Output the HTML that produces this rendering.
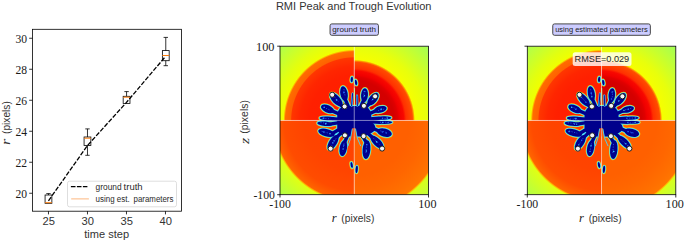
<!DOCTYPE html>
<html><head><meta charset="utf-8"><style>
html,body{margin:0;padding:0;background:#fff;}
svg{display:block;}
</style></head><body>
<svg width="685" height="242" viewBox="0 0 685 242">
<defs><radialGradient id="gTL" gradientUnits="userSpaceOnUse" cx="0" cy="0" r="106"><stop offset="0.0000" stop-color="#ff1c00"/><stop offset="0.4245" stop-color="#ff2000"/><stop offset="0.5094" stop-color="#ff2600"/><stop offset="0.5472" stop-color="#ff2e00"/><stop offset="0.5906" stop-color="#ff3600"/><stop offset="0.6000" stop-color="#ff6200"/><stop offset="0.6491" stop-color="#ff6c00"/><stop offset="0.6575" stop-color="#ffa800"/><stop offset="0.6679" stop-color="#f0ff00"/><stop offset="0.7547" stop-color="#e2ff10"/><stop offset="1.0000" stop-color="#acff50"/></radialGradient><radialGradient id="gTR" gradientUnits="userSpaceOnUse" cx="0" cy="0" r="106"><stop offset="0.0000" stop-color="#d00000"/><stop offset="0.3774" stop-color="#d40000"/><stop offset="0.4104" stop-color="#e00000"/><stop offset="0.4292" stop-color="#f00000"/><stop offset="0.4670" stop-color="#f80800"/><stop offset="0.4887" stop-color="#ff3000"/><stop offset="0.5491" stop-color="#ff4c00"/><stop offset="0.5604" stop-color="#ff9000"/><stop offset="0.5717" stop-color="#f6ff00"/><stop offset="0.6792" stop-color="#e8ff0c"/><stop offset="1.0000" stop-color="#a0ff58"/></radialGradient><radialGradient id="gBL" gradientUnits="userSpaceOnUse" cx="0" cy="0" r="106"><stop offset="0.0000" stop-color="#ff4000"/><stop offset="0.4717" stop-color="#ff4400"/><stop offset="0.6604" stop-color="#ff4c00"/><stop offset="0.7075" stop-color="#ff5800"/><stop offset="0.7509" stop-color="#ff6400"/><stop offset="0.7604" stop-color="#ffb000"/><stop offset="0.7717" stop-color="#e0ff14"/><stop offset="1.0000" stop-color="#b0ff48"/></radialGradient><radialGradient id="gBR" gradientUnits="userSpaceOnUse" cx="0" cy="0" r="106"><stop offset="0.0000" stop-color="#ff6000"/><stop offset="0.5189" stop-color="#ff6000"/><stop offset="0.6604" stop-color="#ff6600"/><stop offset="0.7925" stop-color="#ff7000"/><stop offset="0.8472" stop-color="#ff7600"/><stop offset="0.8566" stop-color="#ffb800"/><stop offset="0.8679" stop-color="#d8ff1c"/><stop offset="1.0000" stop-color="#c0ff40"/></radialGradient><g id="heat"><rect x="-74.25" y="-74.25" width="74.25" height="74.25" fill="url(#gTL)"/><rect x="0" y="-74.25" width="74.25" height="74.25" fill="url(#gTR)"/><rect x="-74.25" y="0" width="74.25" height="74.25" fill="url(#gBL)"/><rect x="0" y="0" width="74.25" height="74.25" fill="url(#gBR)"/></g><g id="fl1"><g fill="#ffe000" stroke="#ffc800" stroke-width="2.4"><ellipse cx="-10.25" cy="-26.80" rx="7.50" ry="3.65" transform="rotate(80.0 -10.25 -26.80)"/><ellipse cx="-18.05" cy="-20.90" rx="8.50" ry="3.87" transform="rotate(48.0 -18.05 -20.90)"/><ellipse cx="-26.75" cy="-11.60" rx="7.00" ry="3.65" transform="rotate(25.0 -26.75 -11.60)"/><ellipse cx="-26.75" cy="-2.00" rx="8.00" ry="1.98" transform="rotate(3.0 -26.75 -2.00)"/><ellipse cx="-29.25" cy="3.30" rx="7.75" ry="2.24" transform="rotate(5.0 -29.25 3.30)"/><ellipse cx="-27.75" cy="12.30" rx="8.50" ry="3.65" transform="rotate(15.0 -27.75 12.30)"/><ellipse cx="-21.25" cy="22.00" rx="8.50" ry="3.87" transform="rotate(122.0 -21.25 22.00)"/><ellipse cx="-10.95" cy="27.70" rx="8.00" ry="3.65" transform="rotate(100.0 -10.95 27.70)"/><ellipse cx="12.25" cy="29.20" rx="9.50" ry="3.87" transform="rotate(95.0 12.25 29.20)"/><ellipse cx="22.75" cy="21.70" rx="8.50" ry="3.65" transform="rotate(45.0 22.75 21.70)"/><ellipse cx="30.25" cy="12.20" rx="7.50" ry="4.08" transform="rotate(15.0 30.25 12.20)"/><ellipse cx="30.35" cy="1.90" rx="7.75" ry="1.55" transform="rotate(0.0 30.35 1.90)"/><ellipse cx="29.35" cy="-2.40" rx="7.75" ry="1.72" transform="rotate(178.0 29.35 -2.40)"/><ellipse cx="26.05" cy="-11.00" rx="6.50" ry="3.23" transform="rotate(165.0 26.05 -11.00)"/><ellipse cx="18.75" cy="-21.30" rx="7.50" ry="3.87" transform="rotate(130.0 18.75 -21.30)"/><ellipse cx="10.25" cy="-25.30" rx="7.00" ry="3.44" transform="rotate(95.0 10.25 -25.30)"/><ellipse cx="-2.45" cy="-41.00" rx="2.80" ry="1.15" transform="rotate(95.0 -2.45 -41.00)"/><ellipse cx="1.75" cy="-37.90" rx="2.80" ry="1.15" transform="rotate(80.0 1.75 -37.90)"/><ellipse cx="-2.55" cy="44.60" rx="3.10" ry="1.10" transform="rotate(80.0 -2.55 44.60)"/><ellipse cx="2.45" cy="49.00" rx="3.60" ry="1.10" transform="rotate(95.0 2.45 49.00)"/><rect x="-17" y="-14.5" width="34" height="30.5" rx="9" ry="9"/><ellipse cx="9" cy="7" rx="12" ry="7.5"/></g><path d="M-9.47,-22.37L-3.90,-9.21M-14.64,-17.11L-6.50,-7.60M-22.94,-9.83L-9.19,-3.94M-21.96,-1.75L-9.97,-0.79M-24.62,3.71L-9.89,1.49M-22.82,13.62L-8.59,5.12M-18.55,17.67L-7.24,6.90M-10.12,22.97L-4.03,9.15M12.75,23.52L4.76,8.79M19.14,18.09L7.27,6.87M25.90,11.04L9.20,3.92M25.70,1.90L9.97,0.74M24.70,-2.24L9.96,-0.90M22.28,-9.99L9.12,-4.09M15.86,-17.85L6.64,-7.48M9.88,-21.12L4.24,-9.06" stroke="#ffc800" stroke-width="5.8" stroke-linecap="round" fill="none"/><g fill="#30d8ff" stroke="#48e0f8" stroke-width="1.5"><ellipse cx="-10.25" cy="-26.80" rx="7.50" ry="3.65" transform="rotate(80.0 -10.25 -26.80)"/><ellipse cx="-18.05" cy="-20.90" rx="8.50" ry="3.87" transform="rotate(48.0 -18.05 -20.90)"/><ellipse cx="-26.75" cy="-11.60" rx="7.00" ry="3.65" transform="rotate(25.0 -26.75 -11.60)"/><ellipse cx="-26.75" cy="-2.00" rx="8.00" ry="1.98" transform="rotate(3.0 -26.75 -2.00)"/><ellipse cx="-29.25" cy="3.30" rx="7.75" ry="2.24" transform="rotate(5.0 -29.25 3.30)"/><ellipse cx="-27.75" cy="12.30" rx="8.50" ry="3.65" transform="rotate(15.0 -27.75 12.30)"/><ellipse cx="-21.25" cy="22.00" rx="8.50" ry="3.87" transform="rotate(122.0 -21.25 22.00)"/><ellipse cx="-10.95" cy="27.70" rx="8.00" ry="3.65" transform="rotate(100.0 -10.95 27.70)"/><ellipse cx="12.25" cy="29.20" rx="9.50" ry="3.87" transform="rotate(95.0 12.25 29.20)"/><ellipse cx="22.75" cy="21.70" rx="8.50" ry="3.65" transform="rotate(45.0 22.75 21.70)"/><ellipse cx="30.25" cy="12.20" rx="7.50" ry="4.08" transform="rotate(15.0 30.25 12.20)"/><ellipse cx="30.35" cy="1.90" rx="7.75" ry="1.55" transform="rotate(0.0 30.35 1.90)"/><ellipse cx="29.35" cy="-2.40" rx="7.75" ry="1.72" transform="rotate(178.0 29.35 -2.40)"/><ellipse cx="26.05" cy="-11.00" rx="6.50" ry="3.23" transform="rotate(165.0 26.05 -11.00)"/><ellipse cx="18.75" cy="-21.30" rx="7.50" ry="3.87" transform="rotate(130.0 18.75 -21.30)"/><ellipse cx="10.25" cy="-25.30" rx="7.00" ry="3.44" transform="rotate(95.0 10.25 -25.30)"/><ellipse cx="-2.45" cy="-41.00" rx="2.80" ry="1.15" transform="rotate(95.0 -2.45 -41.00)"/><ellipse cx="1.75" cy="-37.90" rx="2.80" ry="1.15" transform="rotate(80.0 1.75 -37.90)"/><ellipse cx="-2.55" cy="44.60" rx="3.10" ry="1.10" transform="rotate(80.0 -2.55 44.60)"/><ellipse cx="2.45" cy="49.00" rx="3.60" ry="1.10" transform="rotate(95.0 2.45 49.00)"/><rect x="-17" y="-14.5" width="34" height="30.5" rx="9" ry="9"/><ellipse cx="9" cy="7" rx="12" ry="7.5"/></g><path d="M-9.47,-22.37L-3.90,-9.21M-14.64,-17.11L-6.50,-7.60M-22.94,-9.83L-9.19,-3.94M-21.96,-1.75L-9.97,-0.79M-24.62,3.71L-9.89,1.49M-22.82,13.62L-8.59,5.12M-18.55,17.67L-7.24,6.90M-10.12,22.97L-4.03,9.15M12.75,23.52L4.76,8.79M19.14,18.09L7.27,6.87M25.90,11.04L9.20,3.92M25.70,1.90L9.97,0.74M24.70,-2.24L9.96,-0.90M22.28,-9.99L9.12,-4.09M15.86,-17.85L6.64,-7.48M9.88,-21.12L4.24,-9.06" stroke="#48e0f8" stroke-width="4.9" stroke-linecap="round" fill="none"/><g fill="#00008c"><ellipse cx="-10.25" cy="-26.80" rx="7.50" ry="3.65" transform="rotate(80.0 -10.25 -26.80)"/><ellipse cx="-18.05" cy="-20.90" rx="8.50" ry="3.87" transform="rotate(48.0 -18.05 -20.90)"/><ellipse cx="-26.75" cy="-11.60" rx="7.00" ry="3.65" transform="rotate(25.0 -26.75 -11.60)"/><ellipse cx="-26.75" cy="-2.00" rx="8.00" ry="1.98" transform="rotate(3.0 -26.75 -2.00)"/><ellipse cx="-29.25" cy="3.30" rx="7.75" ry="2.24" transform="rotate(5.0 -29.25 3.30)"/><ellipse cx="-27.75" cy="12.30" rx="8.50" ry="3.65" transform="rotate(15.0 -27.75 12.30)"/><ellipse cx="-21.25" cy="22.00" rx="8.50" ry="3.87" transform="rotate(122.0 -21.25 22.00)"/><ellipse cx="-10.95" cy="27.70" rx="8.00" ry="3.65" transform="rotate(100.0 -10.95 27.70)"/><ellipse cx="12.25" cy="29.20" rx="9.50" ry="3.87" transform="rotate(95.0 12.25 29.20)"/><ellipse cx="22.75" cy="21.70" rx="8.50" ry="3.65" transform="rotate(45.0 22.75 21.70)"/><ellipse cx="30.25" cy="12.20" rx="7.50" ry="4.08" transform="rotate(15.0 30.25 12.20)"/><ellipse cx="30.35" cy="1.90" rx="7.75" ry="1.55" transform="rotate(0.0 30.35 1.90)"/><ellipse cx="29.35" cy="-2.40" rx="7.75" ry="1.72" transform="rotate(178.0 29.35 -2.40)"/><ellipse cx="26.05" cy="-11.00" rx="6.50" ry="3.23" transform="rotate(165.0 26.05 -11.00)"/><ellipse cx="18.75" cy="-21.30" rx="7.50" ry="3.87" transform="rotate(130.0 18.75 -21.30)"/><ellipse cx="10.25" cy="-25.30" rx="7.00" ry="3.44" transform="rotate(95.0 10.25 -25.30)"/><ellipse cx="-2.45" cy="-41.00" rx="2.80" ry="1.15" transform="rotate(95.0 -2.45 -41.00)"/><ellipse cx="1.75" cy="-37.90" rx="2.80" ry="1.15" transform="rotate(80.0 1.75 -37.90)"/><ellipse cx="-2.55" cy="44.60" rx="3.10" ry="1.10" transform="rotate(80.0 -2.55 44.60)"/><ellipse cx="2.45" cy="49.00" rx="3.60" ry="1.10" transform="rotate(95.0 2.45 49.00)"/><rect x="-17" y="-14.5" width="34" height="30.5" rx="9" ry="9"/><ellipse cx="9" cy="7" rx="12" ry="7.5"/></g><path d="M-9.47,-22.37L-3.90,-9.21M-14.64,-17.11L-6.50,-7.60M-22.94,-9.83L-9.19,-3.94M-21.96,-1.75L-9.97,-0.79M-24.62,3.71L-9.89,1.49M-22.82,13.62L-8.59,5.12M-18.55,17.67L-7.24,6.90M-10.12,22.97L-4.03,9.15M12.75,23.52L4.76,8.79M19.14,18.09L7.27,6.87M25.90,11.04L9.20,3.92M25.70,1.90L9.97,0.74M24.70,-2.24L9.96,-0.90M22.28,-9.99L9.12,-4.09M15.86,-17.85L6.64,-7.48M9.88,-21.12L4.24,-9.06" stroke="#00008c" stroke-width="3.4" stroke-linecap="round" fill="none"/><path d="M-1.65,-26.80L-2.65,-14.80M2.75,-24.80L3.15,-14.80" stroke="#48e0f8" stroke-width="2.2" stroke-linecap="round" fill="none"/><path d="M-1.65,-26.80L-2.65,-14.80M2.75,-24.80L3.15,-14.80" stroke="#0010b0" stroke-width="1.1" stroke-linecap="round" fill="none"/><circle cx="-10.53" cy="-28.36" r="0.7" fill="#1e6cff"/><circle cx="-10.41" cy="-27.73" r="0.7" fill="#1e6cff"/><line x1="-10.36" y1="-31.35" x2="-9.06" y2="-23.96" stroke="#2f7dff" stroke-width="0.7" stroke-dasharray="1.2,1.4" opacity="0.9"/><circle cx="-17.81" cy="-20.63" r="0.7" fill="#38c8ff"/><circle cx="-17.48" cy="-20.27" r="0.7" fill="#2a90ff"/><line x1="-21.12" y1="-25.00" x2="-15.44" y2="-18.68" stroke="#2f7dff" stroke-width="0.7" stroke-dasharray="1.2,1.4" opacity="0.9"/><circle cx="-29.90" cy="-13.07" r="0.7" fill="#38c8ff"/><circle cx="-30.02" cy="-13.13" r="0.7" fill="#1e6cff"/><line x1="-30.59" y1="-13.30" x2="-24.25" y2="-10.34" stroke="#2f7dff" stroke-width="0.7" stroke-dasharray="1.2,1.4" opacity="0.9"/><circle cx="-30.98" cy="-2.22" r="0.7" fill="#2a90ff"/><circle cx="-30.36" cy="-2.19" r="0.7" fill="#1e6cff"/><line x1="-31.55" y1="-2.04" x2="-23.57" y2="-1.62" stroke="#2f7dff" stroke-width="0.7" stroke-dasharray="1.2,1.4" opacity="0.9"/><circle cx="-28.48" cy="3.37" r="0.7" fill="#1e6cff"/><circle cx="-28.54" cy="3.36" r="0.7" fill="#38c8ff"/><line x1="-33.82" y1="2.18" x2="-26.10" y2="2.85" stroke="#2f7dff" stroke-width="0.7" stroke-dasharray="1.2,1.4" opacity="0.9"/><circle cx="-30.50" cy="11.56" r="0.7" fill="#2a90ff"/><circle cx="-24.22" cy="13.25" r="0.7" fill="#38c8ff"/><line x1="-32.64" y1="10.86" x2="-24.43" y2="13.06" stroke="#2f7dff" stroke-width="0.7" stroke-dasharray="1.2,1.4" opacity="0.9"/><circle cx="-21.47" cy="22.35" r="0.7" fill="#2a90ff"/><circle cx="-20.21" cy="20.34" r="0.7" fill="#2a90ff"/><line x1="-18.11" y1="17.95" x2="-22.62" y2="25.15" stroke="#2f7dff" stroke-width="0.7" stroke-dasharray="1.2,1.4" opacity="0.9"/><circle cx="-11.09" cy="28.47" r="0.7" fill="#2a90ff"/><circle cx="-10.43" cy="24.75" r="0.7" fill="#1e6cff"/><line x1="-10.19" y1="22.96" x2="-11.58" y2="30.84" stroke="#2f7dff" stroke-width="0.7" stroke-dasharray="1.2,1.4" opacity="0.9"/><circle cx="12.68" cy="24.23" r="0.7" fill="#1e6cff"/><circle cx="12.13" cy="30.55" r="0.7" fill="#38c8ff"/><line x1="12.46" y1="23.50" x2="11.63" y2="32.96" stroke="#2f7dff" stroke-width="0.7" stroke-dasharray="1.2,1.4" opacity="0.9"/><circle cx="22.23" cy="21.18" r="0.7" fill="#38c8ff"/><circle cx="22.50" cy="21.45" r="0.7" fill="#38c8ff"/><line x1="19.30" y1="17.94" x2="25.31" y2="23.95" stroke="#2f7dff" stroke-width="0.7" stroke-dasharray="1.2,1.4" opacity="0.9"/><circle cx="28.06" cy="11.61" r="0.7" fill="#1e6cff"/><circle cx="31.98" cy="12.66" r="0.7" fill="#1e6cff"/><line x1="26.08" y1="10.39" x2="33.32" y2="12.33" stroke="#2f7dff" stroke-width="0.7" stroke-dasharray="1.2,1.4" opacity="0.9"/><circle cx="28.49" cy="1.90" r="0.7" fill="#38c8ff"/><circle cx="33.84" cy="1.90" r="0.7" fill="#2a90ff"/><line x1="25.70" y1="1.82" x2="33.45" y2="1.82" stroke="#2f7dff" stroke-width="0.7" stroke-dasharray="1.2,1.4" opacity="0.9"/><circle cx="28.34" cy="-2.36" r="0.7" fill="#1e6cff"/><circle cx="32.90" cy="-2.52" r="0.7" fill="#38c8ff"/><line x1="34.02" y1="-2.03" x2="26.27" y2="-1.76" stroke="#2f7dff" stroke-width="0.7" stroke-dasharray="1.2,1.4" opacity="0.9"/><circle cx="27.24" cy="-11.32" r="0.7" fill="#38c8ff"/><circle cx="26.64" cy="-11.16" r="0.7" fill="#2a90ff"/><line x1="29.99" y1="-11.36" x2="23.71" y2="-9.67" stroke="#2f7dff" stroke-width="0.7" stroke-dasharray="1.2,1.4" opacity="0.9"/><circle cx="18.41" cy="-20.90" r="0.7" fill="#38c8ff"/><circle cx="19.67" cy="-22.40" r="0.7" fill="#38c8ff"/><line x1="21.53" y1="-24.84" x2="16.71" y2="-19.10" stroke="#2f7dff" stroke-width="0.7" stroke-dasharray="1.2,1.4" opacity="0.9"/><circle cx="10.19" cy="-24.63" r="0.7" fill="#38c8ff"/><circle cx="10.57" cy="-28.91" r="0.7" fill="#1e6cff"/><line x1="9.91" y1="-29.55" x2="9.30" y2="-22.57" stroke="#2f7dff" stroke-width="0.7" stroke-dasharray="1.2,1.4" opacity="0.9"/><polygon points="-2.05,7.90 0.00,7.90 0.00,39.70 -7.75,39.70 -6.75,27.70 -3.75,17.70" fill="url(#gBL)"/><polygon points="0.00,7.90 1.35,7.90 3.25,17.70 7.25,27.70 7.75,39.70 0.00,39.70" fill="url(#gBR)"/><polyline points="-1.95,8.30 -3.65,17.70 -6.25,25.70" fill="none" stroke="#40d8ff" stroke-width="0.9"/><polyline points="1.25,8.30 3.05,17.70 6.55,25.70" fill="none" stroke="#40d8ff" stroke-width="0.9"/><polyline points="0.15,-32.30 0.35,-15.30" fill="none" stroke="#a0ff60" stroke-width="0.9"/><line x1="0" y1="-74.25" x2="0" y2="74.25" stroke="#fff" stroke-opacity="0.55" stroke-width="0.9"/><line x1="-74.25" y1="0" x2="74.25" y2="0" stroke="#fff" stroke-opacity="0.55" stroke-width="0.9"/><circle cx="-22.05000000000001" cy="-25.700000000000003" r="2.55" fill="#f4f4f8" stroke="#151515" stroke-width="0.95"/><circle cx="-9.649999999999977" cy="-14.0" r="2.55" fill="#f4f4f8" stroke="#151515" stroke-width="0.95"/><circle cx="9.649999999999977" cy="-14.599999999999994" r="2.55" fill="#f4f4f8" stroke="#151515" stroke-width="0.95"/><circle cx="20.850000000000023" cy="-24.099999999999994" r="2.55" fill="#f4f4f8" stroke="#151515" stroke-width="0.95"/><circle cx="-9.350000000000023" cy="14.899999999999991" r="2.55" fill="#f4f4f8" stroke="#151515" stroke-width="0.95"/><circle cx="9.350000000000023" cy="15.700000000000003" r="2.55" fill="#f4f4f8" stroke="#151515" stroke-width="0.95"/><circle cx="-23.649999999999977" cy="28.200000000000003" r="2.55" fill="#f4f4f8" stroke="#151515" stroke-width="0.95"/><circle cx="27.850000000000023" cy="28.10000000000001" r="2.55" fill="#f4f4f8" stroke="#151515" stroke-width="0.95"/></g><g id="fl2"><g fill="#ffe000" stroke="#ffc800" stroke-width="2.4"><ellipse cx="-10.25" cy="-26.80" rx="7.50" ry="3.48" transform="rotate(80.0 -10.25 -26.80)"/><ellipse cx="-18.05" cy="-20.90" rx="8.50" ry="3.69" transform="rotate(48.0 -18.05 -20.90)"/><ellipse cx="-26.75" cy="-11.60" rx="7.00" ry="3.48" transform="rotate(25.0 -26.75 -11.60)"/><ellipse cx="-26.75" cy="-2.00" rx="8.00" ry="1.89" transform="rotate(3.0 -26.75 -2.00)"/><ellipse cx="-29.25" cy="3.30" rx="7.75" ry="2.13" transform="rotate(5.0 -29.25 3.30)"/><ellipse cx="-27.75" cy="12.30" rx="8.50" ry="3.48" transform="rotate(15.0 -27.75 12.30)"/><ellipse cx="-21.25" cy="22.00" rx="8.50" ry="3.69" transform="rotate(122.0 -21.25 22.00)"/><ellipse cx="-10.95" cy="27.70" rx="8.00" ry="3.48" transform="rotate(100.0 -10.95 27.70)"/><ellipse cx="12.25" cy="29.20" rx="9.50" ry="3.69" transform="rotate(95.0 12.25 29.20)"/><ellipse cx="22.75" cy="21.70" rx="8.50" ry="3.48" transform="rotate(45.0 22.75 21.70)"/><ellipse cx="30.25" cy="12.20" rx="7.50" ry="3.89" transform="rotate(15.0 30.25 12.20)"/><ellipse cx="30.35" cy="1.90" rx="7.75" ry="1.48" transform="rotate(0.0 30.35 1.90)"/><ellipse cx="29.35" cy="-2.40" rx="7.75" ry="1.64" transform="rotate(178.0 29.35 -2.40)"/><ellipse cx="26.05" cy="-11.00" rx="6.50" ry="3.07" transform="rotate(165.0 26.05 -11.00)"/><ellipse cx="18.75" cy="-21.30" rx="7.50" ry="3.69" transform="rotate(130.0 18.75 -21.30)"/><ellipse cx="10.25" cy="-25.30" rx="7.00" ry="3.28" transform="rotate(95.0 10.25 -25.30)"/><ellipse cx="-2.45" cy="-41.00" rx="2.80" ry="1.15" transform="rotate(95.0 -2.45 -41.00)"/><ellipse cx="1.75" cy="-37.90" rx="2.80" ry="1.15" transform="rotate(80.0 1.75 -37.90)"/><ellipse cx="-2.55" cy="44.60" rx="3.10" ry="1.10" transform="rotate(80.0 -2.55 44.60)"/><ellipse cx="2.45" cy="49.00" rx="3.60" ry="1.10" transform="rotate(95.0 2.45 49.00)"/><rect x="-17" y="-14.5" width="34" height="30.5" rx="9" ry="9"/><ellipse cx="9" cy="7" rx="12" ry="7.5"/></g><path d="M-9.47,-22.37L-3.90,-9.21M-14.64,-17.11L-6.50,-7.60M-22.94,-9.83L-9.19,-3.94M-21.96,-1.75L-9.97,-0.79M-24.62,3.71L-9.89,1.49M-22.82,13.62L-8.59,5.12M-18.55,17.67L-7.24,6.90M-10.12,22.97L-4.03,9.15M12.75,23.52L4.76,8.79M19.14,18.09L7.27,6.87M25.90,11.04L9.20,3.92M25.70,1.90L9.97,0.74M24.70,-2.24L9.96,-0.90M22.28,-9.99L9.12,-4.09M15.86,-17.85L6.64,-7.48M9.88,-21.12L4.24,-9.06" stroke="#ffc800" stroke-width="5.8" stroke-linecap="round" fill="none"/><g fill="#30d8ff" stroke="#48e0f8" stroke-width="1.5"><ellipse cx="-10.25" cy="-26.80" rx="7.50" ry="3.48" transform="rotate(80.0 -10.25 -26.80)"/><ellipse cx="-18.05" cy="-20.90" rx="8.50" ry="3.69" transform="rotate(48.0 -18.05 -20.90)"/><ellipse cx="-26.75" cy="-11.60" rx="7.00" ry="3.48" transform="rotate(25.0 -26.75 -11.60)"/><ellipse cx="-26.75" cy="-2.00" rx="8.00" ry="1.89" transform="rotate(3.0 -26.75 -2.00)"/><ellipse cx="-29.25" cy="3.30" rx="7.75" ry="2.13" transform="rotate(5.0 -29.25 3.30)"/><ellipse cx="-27.75" cy="12.30" rx="8.50" ry="3.48" transform="rotate(15.0 -27.75 12.30)"/><ellipse cx="-21.25" cy="22.00" rx="8.50" ry="3.69" transform="rotate(122.0 -21.25 22.00)"/><ellipse cx="-10.95" cy="27.70" rx="8.00" ry="3.48" transform="rotate(100.0 -10.95 27.70)"/><ellipse cx="12.25" cy="29.20" rx="9.50" ry="3.69" transform="rotate(95.0 12.25 29.20)"/><ellipse cx="22.75" cy="21.70" rx="8.50" ry="3.48" transform="rotate(45.0 22.75 21.70)"/><ellipse cx="30.25" cy="12.20" rx="7.50" ry="3.89" transform="rotate(15.0 30.25 12.20)"/><ellipse cx="30.35" cy="1.90" rx="7.75" ry="1.48" transform="rotate(0.0 30.35 1.90)"/><ellipse cx="29.35" cy="-2.40" rx="7.75" ry="1.64" transform="rotate(178.0 29.35 -2.40)"/><ellipse cx="26.05" cy="-11.00" rx="6.50" ry="3.07" transform="rotate(165.0 26.05 -11.00)"/><ellipse cx="18.75" cy="-21.30" rx="7.50" ry="3.69" transform="rotate(130.0 18.75 -21.30)"/><ellipse cx="10.25" cy="-25.30" rx="7.00" ry="3.28" transform="rotate(95.0 10.25 -25.30)"/><ellipse cx="-2.45" cy="-41.00" rx="2.80" ry="1.15" transform="rotate(95.0 -2.45 -41.00)"/><ellipse cx="1.75" cy="-37.90" rx="2.80" ry="1.15" transform="rotate(80.0 1.75 -37.90)"/><ellipse cx="-2.55" cy="44.60" rx="3.10" ry="1.10" transform="rotate(80.0 -2.55 44.60)"/><ellipse cx="2.45" cy="49.00" rx="3.60" ry="1.10" transform="rotate(95.0 2.45 49.00)"/><rect x="-17" y="-14.5" width="34" height="30.5" rx="9" ry="9"/><ellipse cx="9" cy="7" rx="12" ry="7.5"/></g><path d="M-9.47,-22.37L-3.90,-9.21M-14.64,-17.11L-6.50,-7.60M-22.94,-9.83L-9.19,-3.94M-21.96,-1.75L-9.97,-0.79M-24.62,3.71L-9.89,1.49M-22.82,13.62L-8.59,5.12M-18.55,17.67L-7.24,6.90M-10.12,22.97L-4.03,9.15M12.75,23.52L4.76,8.79M19.14,18.09L7.27,6.87M25.90,11.04L9.20,3.92M25.70,1.90L9.97,0.74M24.70,-2.24L9.96,-0.90M22.28,-9.99L9.12,-4.09M15.86,-17.85L6.64,-7.48M9.88,-21.12L4.24,-9.06" stroke="#48e0f8" stroke-width="4.9" stroke-linecap="round" fill="none"/><g fill="#00008c"><ellipse cx="-10.25" cy="-26.80" rx="7.50" ry="3.48" transform="rotate(80.0 -10.25 -26.80)"/><ellipse cx="-18.05" cy="-20.90" rx="8.50" ry="3.69" transform="rotate(48.0 -18.05 -20.90)"/><ellipse cx="-26.75" cy="-11.60" rx="7.00" ry="3.48" transform="rotate(25.0 -26.75 -11.60)"/><ellipse cx="-26.75" cy="-2.00" rx="8.00" ry="1.89" transform="rotate(3.0 -26.75 -2.00)"/><ellipse cx="-29.25" cy="3.30" rx="7.75" ry="2.13" transform="rotate(5.0 -29.25 3.30)"/><ellipse cx="-27.75" cy="12.30" rx="8.50" ry="3.48" transform="rotate(15.0 -27.75 12.30)"/><ellipse cx="-21.25" cy="22.00" rx="8.50" ry="3.69" transform="rotate(122.0 -21.25 22.00)"/><ellipse cx="-10.95" cy="27.70" rx="8.00" ry="3.48" transform="rotate(100.0 -10.95 27.70)"/><ellipse cx="12.25" cy="29.20" rx="9.50" ry="3.69" transform="rotate(95.0 12.25 29.20)"/><ellipse cx="22.75" cy="21.70" rx="8.50" ry="3.48" transform="rotate(45.0 22.75 21.70)"/><ellipse cx="30.25" cy="12.20" rx="7.50" ry="3.89" transform="rotate(15.0 30.25 12.20)"/><ellipse cx="30.35" cy="1.90" rx="7.75" ry="1.48" transform="rotate(0.0 30.35 1.90)"/><ellipse cx="29.35" cy="-2.40" rx="7.75" ry="1.64" transform="rotate(178.0 29.35 -2.40)"/><ellipse cx="26.05" cy="-11.00" rx="6.50" ry="3.07" transform="rotate(165.0 26.05 -11.00)"/><ellipse cx="18.75" cy="-21.30" rx="7.50" ry="3.69" transform="rotate(130.0 18.75 -21.30)"/><ellipse cx="10.25" cy="-25.30" rx="7.00" ry="3.28" transform="rotate(95.0 10.25 -25.30)"/><ellipse cx="-2.45" cy="-41.00" rx="2.80" ry="1.15" transform="rotate(95.0 -2.45 -41.00)"/><ellipse cx="1.75" cy="-37.90" rx="2.80" ry="1.15" transform="rotate(80.0 1.75 -37.90)"/><ellipse cx="-2.55" cy="44.60" rx="3.10" ry="1.10" transform="rotate(80.0 -2.55 44.60)"/><ellipse cx="2.45" cy="49.00" rx="3.60" ry="1.10" transform="rotate(95.0 2.45 49.00)"/><rect x="-17" y="-14.5" width="34" height="30.5" rx="9" ry="9"/><ellipse cx="9" cy="7" rx="12" ry="7.5"/></g><path d="M-9.47,-22.37L-3.90,-9.21M-14.64,-17.11L-6.50,-7.60M-22.94,-9.83L-9.19,-3.94M-21.96,-1.75L-9.97,-0.79M-24.62,3.71L-9.89,1.49M-22.82,13.62L-8.59,5.12M-18.55,17.67L-7.24,6.90M-10.12,22.97L-4.03,9.15M12.75,23.52L4.76,8.79M19.14,18.09L7.27,6.87M25.90,11.04L9.20,3.92M25.70,1.90L9.97,0.74M24.70,-2.24L9.96,-0.90M22.28,-9.99L9.12,-4.09M15.86,-17.85L6.64,-7.48M9.88,-21.12L4.24,-9.06" stroke="#00008c" stroke-width="3.4" stroke-linecap="round" fill="none"/><path d="M-1.65,-26.80L-2.65,-14.80M2.75,-24.80L3.15,-14.80" stroke="#48e0f8" stroke-width="2.2" stroke-linecap="round" fill="none"/><path d="M-1.65,-26.80L-2.65,-14.80M2.75,-24.80L3.15,-14.80" stroke="#0010b0" stroke-width="1.1" stroke-linecap="round" fill="none"/><circle cx="-10.32" cy="-27.22" r="0.7" fill="#2a90ff"/><circle cx="-9.69" cy="-23.64" r="0.7" fill="#38c8ff"/><line x1="-10.96" y1="-31.25" x2="-9.65" y2="-23.86" stroke="#2f7dff" stroke-width="0.7" stroke-dasharray="1.2,1.4" opacity="0.9"/><circle cx="-15.63" cy="-18.21" r="0.7" fill="#1e6cff"/><circle cx="-20.20" cy="-23.29" r="0.7" fill="#2a90ff"/><line x1="-21.43" y1="-24.72" x2="-15.75" y2="-18.40" stroke="#2f7dff" stroke-width="0.7" stroke-dasharray="1.2,1.4" opacity="0.9"/><circle cx="-25.88" cy="-11.20" r="0.7" fill="#1e6cff"/><circle cx="-29.84" cy="-13.04" r="0.7" fill="#38c8ff"/><line x1="-30.31" y1="-13.89" x2="-23.97" y2="-10.94" stroke="#2f7dff" stroke-width="0.7" stroke-dasharray="1.2,1.4" opacity="0.9"/><circle cx="-26.38" cy="-1.98" r="0.7" fill="#2a90ff"/><circle cx="-25.46" cy="-1.93" r="0.7" fill="#2a90ff"/><line x1="-31.58" y1="-1.48" x2="-23.59" y2="-1.06" stroke="#2f7dff" stroke-width="0.7" stroke-dasharray="1.2,1.4" opacity="0.9"/><circle cx="-24.94" cy="3.68" r="0.7" fill="#2a90ff"/><circle cx="-27.04" cy="3.49" r="0.7" fill="#2a90ff"/><line x1="-33.83" y1="2.35" x2="-26.11" y2="3.02" stroke="#2f7dff" stroke-width="0.7" stroke-dasharray="1.2,1.4" opacity="0.9"/><circle cx="-32.53" cy="11.02" r="0.7" fill="#2a90ff"/><circle cx="-32.05" cy="11.15" r="0.7" fill="#1e6cff"/><line x1="-32.55" y1="10.50" x2="-24.34" y2="12.70" stroke="#2f7dff" stroke-width="0.7" stroke-dasharray="1.2,1.4" opacity="0.9"/><circle cx="-19.86" cy="19.77" r="0.7" fill="#1e6cff"/><circle cx="-22.75" cy="24.41" r="0.7" fill="#38c8ff"/><line x1="-18.47" y1="17.73" x2="-22.97" y2="24.93" stroke="#2f7dff" stroke-width="0.7" stroke-dasharray="1.2,1.4" opacity="0.9"/><circle cx="-11.52" cy="30.94" r="0.7" fill="#2a90ff"/><circle cx="-10.51" cy="25.18" r="0.7" fill="#38c8ff"/><line x1="-10.12" y1="22.97" x2="-11.51" y2="30.85" stroke="#2f7dff" stroke-width="0.7" stroke-dasharray="1.2,1.4" opacity="0.9"/><circle cx="12.09" cy="31.04" r="0.7" fill="#38c8ff"/><circle cx="12.10" cy="30.96" r="0.7" fill="#38c8ff"/><line x1="11.95" y1="23.45" x2="11.13" y2="32.92" stroke="#2f7dff" stroke-width="0.7" stroke-dasharray="1.2,1.4" opacity="0.9"/><circle cx="26.33" cy="25.28" r="0.7" fill="#1e6cff"/><circle cx="24.25" cy="23.20" r="0.7" fill="#38c8ff"/><line x1="18.85" y1="18.39" x2="24.86" y2="24.40" stroke="#2f7dff" stroke-width="0.7" stroke-dasharray="1.2,1.4" opacity="0.9"/><circle cx="30.36" cy="12.23" r="0.7" fill="#1e6cff"/><circle cx="26.51" cy="11.20" r="0.7" fill="#1e6cff"/><line x1="25.94" y1="10.88" x2="33.19" y2="12.82" stroke="#2f7dff" stroke-width="0.7" stroke-dasharray="1.2,1.4" opacity="0.9"/><circle cx="33.57" cy="1.90" r="0.7" fill="#38c8ff"/><circle cx="26.32" cy="1.90" r="0.7" fill="#1e6cff"/><line x1="25.70" y1="2.46" x2="33.45" y2="2.46" stroke="#2f7dff" stroke-width="0.7" stroke-dasharray="1.2,1.4" opacity="0.9"/><circle cx="33.99" cy="-2.56" r="0.7" fill="#1e6cff"/><circle cx="25.38" cy="-2.26" r="0.7" fill="#1e6cff"/><line x1="34.00" y1="-2.51" x2="26.25" y2="-2.24" stroke="#2f7dff" stroke-width="0.7" stroke-dasharray="1.2,1.4" opacity="0.9"/><circle cx="22.43" cy="-10.03" r="0.7" fill="#38c8ff"/><circle cx="26.65" cy="-11.16" r="0.7" fill="#2a90ff"/><line x1="29.76" y1="-12.21" x2="23.48" y2="-10.53" stroke="#2f7dff" stroke-width="0.7" stroke-dasharray="1.2,1.4" opacity="0.9"/><circle cx="17.14" cy="-19.38" r="0.7" fill="#38c8ff"/><circle cx="19.69" cy="-22.42" r="0.7" fill="#38c8ff"/><line x1="21.85" y1="-24.58" x2="17.03" y2="-18.83" stroke="#2f7dff" stroke-width="0.7" stroke-dasharray="1.2,1.4" opacity="0.9"/><circle cx="9.91" cy="-21.42" r="0.7" fill="#1e6cff"/><circle cx="10.52" cy="-28.36" r="0.7" fill="#2a90ff"/><line x1="11.25" y1="-29.43" x2="10.64" y2="-22.46" stroke="#2f7dff" stroke-width="0.7" stroke-dasharray="1.2,1.4" opacity="0.9"/><polygon points="-2.05,7.90 0.00,7.90 0.00,39.70 -7.75,39.70 -6.75,27.70 -3.75,17.70" fill="url(#gBL)"/><polygon points="0.00,7.90 1.35,7.90 3.25,17.70 7.25,27.70 7.75,39.70 0.00,39.70" fill="url(#gBR)"/><polyline points="-1.95,8.30 -3.65,17.70 -6.25,25.70" fill="none" stroke="#40d8ff" stroke-width="0.9"/><polyline points="1.25,8.30 3.05,17.70 6.55,25.70" fill="none" stroke="#40d8ff" stroke-width="0.9"/><polyline points="0.15,-32.30 0.35,-15.30" fill="none" stroke="#a0ff60" stroke-width="0.9"/><line x1="0" y1="-74.25" x2="0" y2="74.25" stroke="#fff" stroke-opacity="0.55" stroke-width="0.9"/><line x1="-74.25" y1="0" x2="74.25" y2="0" stroke="#fff" stroke-opacity="0.55" stroke-width="0.9"/><circle cx="-22.05000000000001" cy="-25.700000000000003" r="2.55" fill="#f4f4f8" stroke="#151515" stroke-width="0.95"/><circle cx="-9.649999999999977" cy="-14.0" r="2.55" fill="#f4f4f8" stroke="#151515" stroke-width="0.95"/><circle cx="9.649999999999977" cy="-14.599999999999994" r="2.55" fill="#f4f4f8" stroke="#151515" stroke-width="0.95"/><circle cx="20.850000000000023" cy="-24.099999999999994" r="2.55" fill="#f4f4f8" stroke="#151515" stroke-width="0.95"/><circle cx="-9.350000000000023" cy="14.899999999999991" r="2.55" fill="#f4f4f8" stroke="#151515" stroke-width="0.95"/><circle cx="9.350000000000023" cy="15.700000000000003" r="2.55" fill="#f4f4f8" stroke="#151515" stroke-width="0.95"/><circle cx="-23.649999999999977" cy="28.200000000000003" r="2.55" fill="#f4f4f8" stroke="#151515" stroke-width="0.95"/><circle cx="27.850000000000023" cy="28.10000000000001" r="2.55" fill="#f4f4f8" stroke="#151515" stroke-width="0.95"/></g></defs>
<rect width="685" height="242" fill="#fff"/>
<line x1="29.20" y1="193.26" x2="32.40" y2="193.26" stroke="#000" stroke-width="0.8"/><text x="15.4" y="197.56" font-family='"Liberation Serif", serif' font-size="12.2" fill="#1a1a1a" textLength="11.6" lengthAdjust="spacingAndGlyphs">20</text><line x1="29.20" y1="162.26" x2="32.40" y2="162.26" stroke="#000" stroke-width="0.8"/><text x="15.4" y="166.56" font-family='"Liberation Serif", serif' font-size="12.2" fill="#1a1a1a" textLength="11.6" lengthAdjust="spacingAndGlyphs">22</text><line x1="29.20" y1="131.26" x2="32.40" y2="131.26" stroke="#000" stroke-width="0.8"/><text x="15.4" y="135.56" font-family='"Liberation Serif", serif' font-size="12.2" fill="#1a1a1a" textLength="11.6" lengthAdjust="spacingAndGlyphs">24</text><line x1="29.20" y1="100.26" x2="32.40" y2="100.26" stroke="#000" stroke-width="0.8"/><text x="15.4" y="104.56" font-family='"Liberation Serif", serif' font-size="12.2" fill="#1a1a1a" textLength="11.6" lengthAdjust="spacingAndGlyphs">26</text><line x1="29.20" y1="69.26" x2="32.40" y2="69.26" stroke="#000" stroke-width="0.8"/><text x="15.4" y="73.56" font-family='"Liberation Serif", serif' font-size="12.2" fill="#1a1a1a" textLength="11.6" lengthAdjust="spacingAndGlyphs">28</text><line x1="29.20" y1="38.26" x2="32.40" y2="38.26" stroke="#000" stroke-width="0.8"/><text x="15.4" y="42.56" font-family='"Liberation Serif", serif' font-size="12.2" fill="#1a1a1a" textLength="11.6" lengthAdjust="spacingAndGlyphs">30</text><line x1="48.47" y1="211.20" x2="48.47" y2="214.40" stroke="#000" stroke-width="0.8"/><text x="48.67" y="224.6" font-family='"Liberation Sans", sans-serif' font-size="11.2" text-anchor="middle" fill="#333">25</text><line x1="87.47" y1="211.20" x2="87.47" y2="214.40" stroke="#000" stroke-width="0.8"/><text x="87.67" y="224.6" font-family='"Liberation Sans", sans-serif' font-size="11.2" text-anchor="middle" fill="#333">30</text><line x1="126.47" y1="211.20" x2="126.47" y2="214.40" stroke="#000" stroke-width="0.8"/><text x="126.67" y="224.6" font-family='"Liberation Sans", sans-serif' font-size="11.2" text-anchor="middle" fill="#333">35</text><line x1="165.47" y1="211.20" x2="165.47" y2="214.40" stroke="#000" stroke-width="0.8"/><text x="165.67" y="224.6" font-family='"Liberation Sans", sans-serif' font-size="11.2" text-anchor="middle" fill="#333">40</text><text x="84.3" y="238.2" font-family='"Liberation Sans", sans-serif' font-size="11" fill="#333" textLength="44.8" lengthAdjust="spacingAndGlyphs">time step</text><g transform="translate(10.3,145.0) rotate(-90)"><text x="0" y="0" font-family='"Liberation Serif", serif' font-style="italic" font-size="13" fill="#333" textLength="6.2" lengthAdjust="spacingAndGlyphs">r</text><text x="11.0" y="-0.2" font-family='"Liberation Sans", sans-serif' font-size="11.2" fill="#333" textLength="32.8" lengthAdjust="spacingAndGlyphs">(pixels)</text></g><polyline points="48.47,200.80 87.47,145.50 126.47,102.40 165.47,56.50" fill="none" stroke="#000" stroke-width="1.3" stroke-dasharray="4.6,1.6"/><line x1="48.47" y1="193.60" x2="48.47" y2="195.00" stroke="#000" stroke-width="0.8"/><line x1="46.27" y1="193.60" x2="50.67" y2="193.60" stroke="#000" stroke-width="0.8"/><rect x="45.07" y="195.00" width="6.80" height="8.30" fill="none" stroke="#000" stroke-width="0.8"/><line x1="45.07" y1="202.70" x2="51.87" y2="202.70" stroke="#ff7f0e" stroke-width="1"/><line x1="87.47" y1="128.90" x2="87.47" y2="137.00" stroke="#000" stroke-width="0.8"/><line x1="85.27" y1="128.90" x2="89.67" y2="128.90" stroke="#000" stroke-width="0.8"/><line x1="87.47" y1="145.40" x2="87.47" y2="155.30" stroke="#000" stroke-width="0.8"/><line x1="85.27" y1="155.30" x2="89.67" y2="155.30" stroke="#000" stroke-width="0.8"/><rect x="84.07" y="137.00" width="6.80" height="8.40" fill="none" stroke="#000" stroke-width="0.8"/><line x1="84.07" y1="138.20" x2="90.87" y2="138.20" stroke="#ff7f0e" stroke-width="1"/><line x1="126.57" y1="91.60" x2="126.57" y2="96.30" stroke="#000" stroke-width="0.8"/><line x1="124.37" y1="91.60" x2="128.77" y2="91.60" stroke="#000" stroke-width="0.8"/><rect x="123.17" y="96.30" width="6.80" height="7.20" fill="none" stroke="#000" stroke-width="0.8"/><line x1="123.17" y1="97.20" x2="129.97" y2="97.20" stroke="#ff7f0e" stroke-width="1"/><line x1="165.77" y1="37.40" x2="165.77" y2="50.60" stroke="#000" stroke-width="0.8"/><line x1="163.57" y1="37.40" x2="167.97" y2="37.40" stroke="#000" stroke-width="0.8"/><line x1="165.77" y1="60.70" x2="165.77" y2="65.70" stroke="#000" stroke-width="0.8"/><line x1="163.57" y1="65.70" x2="167.97" y2="65.70" stroke="#000" stroke-width="0.8"/><rect x="162.37" y="50.60" width="6.80" height="10.10" fill="none" stroke="#000" stroke-width="0.8"/><line x1="162.37" y1="55.50" x2="169.17" y2="55.50" stroke="#ff7f0e" stroke-width="1"/><rect x="67.5" y="181.2" width="109" height="25.6" rx="2" ry="2" fill="#fff" fill-opacity="0.8" stroke="#d6d6d6" stroke-width="0.8"/><line x1="70.9" y1="186.7" x2="87.4" y2="186.7" stroke="#000" stroke-width="1.3" stroke-dasharray="4.6,1.4"/><line x1="71.2" y1="198.9" x2="88.9" y2="198.9" stroke="#fdb77f" stroke-width="1"/><text x="95.6" y="190.2" font-family='"Liberation Sans", sans-serif' font-size="8.4" fill="#2a2a2a" textLength="26.0" lengthAdjust="spacingAndGlyphs">ground</text><text x="123.6" y="190.2" font-family='"Liberation Sans", sans-serif' font-size="8.4" fill="#2a2a2a" textLength="19.0" lengthAdjust="spacingAndGlyphs">truth</text><text x="95.6" y="201.5" font-family='"Liberation Sans", sans-serif' font-size="8.4" fill="#2a2a2a" textLength="34.0" lengthAdjust="spacingAndGlyphs">using est.</text><text x="133.6" y="201.5" font-family='"Liberation Sans", sans-serif' font-size="8.4" fill="#2a2a2a" textLength="39.8" lengthAdjust="spacingAndGlyphs">parameters</text><rect x="32.4" y="29.3" width="149.10" height="181.90" fill="none" stroke="#000" stroke-width="0.8"/>
<text x="275.9" y="9.9" font-family='"Liberation Sans", sans-serif' font-size="11" fill="#333" textLength="155.6" lengthAdjust="spacingAndGlyphs">RMI Peak and Trough Evolution</text>
<clipPath id="c280"><rect x="280.0" y="46.2" width="148.5" height="148.5"/></clipPath><g clip-path="url(#c280)"><g transform="translate(354.25,120.45)"><use href="#heat"/><use href="#fl1"/></g></g><rect x="280.0" y="46.2" width="148.5" height="148.5" fill="none" stroke="#000" stroke-width="0.8"/><line x1="277.2" y1="46.2" x2="280.0" y2="46.2" stroke="#000" stroke-width="0.8"/><line x1="277.2" y1="194.7" x2="280.0" y2="194.7" stroke="#000" stroke-width="0.8"/><line x1="280.0" y1="194.7" x2="280.0" y2="197.5" stroke="#000" stroke-width="0.8"/><line x1="428.5" y1="194.7" x2="428.5" y2="197.5" stroke="#000" stroke-width="0.8"/><text x="256.10" y="50.60" font-family='"Liberation Serif", serif' font-size="12.2" fill="#1a1a1a" textLength="18.4" lengthAdjust="spacingAndGlyphs">100</text><text x="253.40" y="198.80" font-family='"Liberation Serif", serif' font-size="12.2" fill="#1a1a1a" textLength="21.6" lengthAdjust="spacingAndGlyphs">-100</text><g transform="translate(248.90,143.9) rotate(-90)"><text x="0" y="0" font-family='"Liberation Serif", serif' font-style="italic" font-size="12" fill="#333" textLength="6.2" lengthAdjust="spacingAndGlyphs">z</text><text x="10.2" y="-0.8" font-family='"Liberation Sans", sans-serif' font-size="11.2" fill="#333" textLength="33.6" lengthAdjust="spacingAndGlyphs">(pixels)</text></g><text x="269.30" y="207.80" font-family='"Liberation Serif", serif' font-size="12.2" fill="#1a1a1a" textLength="21.6" lengthAdjust="spacingAndGlyphs">-100</text><text x="418.30" y="207.80" font-family='"Liberation Serif", serif' font-size="12.2" fill="#1a1a1a" textLength="18.2" lengthAdjust="spacingAndGlyphs">100</text><text x="331.65" y="221.6" font-family='"Liberation Serif", serif' font-style="italic" font-size="12.5" fill="#1a1a1a">r</text><text x="341.35" y="221.9" font-family='"Liberation Sans", sans-serif' font-size="11.2" fill="#333" textLength="33" lengthAdjust="spacingAndGlyphs">(pixels)</text><rect x="330.05" y="23.9" width="48.4" height="11.4" rx="1.8" ry="1.8" fill="#ccccff" stroke="#333" stroke-width="0.9"/><text x="332.35" y="31.7" font-family='"Liberation Sans", sans-serif' font-size="7.6" fill="#222" textLength="43.6" lengthAdjust="spacingAndGlyphs">ground truth</text>
<clipPath id="c527"><rect x="527.3" y="46.2" width="148.5" height="148.5"/></clipPath><g clip-path="url(#c527)"><g transform="translate(601.55,120.45)"><use href="#heat"/><use href="#fl2"/></g></g><rect x="572.7" y="52.2" width="58.8" height="13.8" rx="2.5" ry="2.5" fill="#fff" fill-opacity="0.8"/><text x="574.6" y="61.5" font-family='"Liberation Sans", sans-serif' font-size="8.9" fill="#222" textLength="54.6" lengthAdjust="spacingAndGlyphs">RMSE=0.029</text><rect x="527.3" y="46.2" width="148.5" height="148.5" fill="none" stroke="#000" stroke-width="0.8"/><line x1="524.5" y1="46.2" x2="527.3" y2="46.2" stroke="#000" stroke-width="0.8"/><line x1="524.5" y1="194.7" x2="527.3" y2="194.7" stroke="#000" stroke-width="0.8"/><line x1="527.3" y1="194.7" x2="527.3" y2="197.5" stroke="#000" stroke-width="0.8"/><line x1="675.8" y1="194.7" x2="675.8" y2="197.5" stroke="#000" stroke-width="0.8"/><text x="516.60" y="207.80" font-family='"Liberation Serif", serif' font-size="12.2" fill="#1a1a1a" textLength="21.6" lengthAdjust="spacingAndGlyphs">-100</text><text x="665.60" y="207.80" font-family='"Liberation Serif", serif' font-size="12.2" fill="#1a1a1a" textLength="18.2" lengthAdjust="spacingAndGlyphs">100</text><text x="578.95" y="221.6" font-family='"Liberation Serif", serif' font-style="italic" font-size="12.5" fill="#1a1a1a">r</text><text x="588.65" y="221.9" font-family='"Liberation Sans", sans-serif' font-size="11.2" fill="#333" textLength="33" lengthAdjust="spacingAndGlyphs">(pixels)</text><rect x="552.75" y="23.9" width="97.6" height="11.4" rx="1.8" ry="1.8" fill="#ccccff" stroke="#333" stroke-width="0.9"/><text x="555.15" y="31.7" font-family='"Liberation Sans", sans-serif' font-size="7.6" fill="#222" textLength="92.6" lengthAdjust="spacingAndGlyphs">using estimated parameters</text>
</svg>
</body></html>
